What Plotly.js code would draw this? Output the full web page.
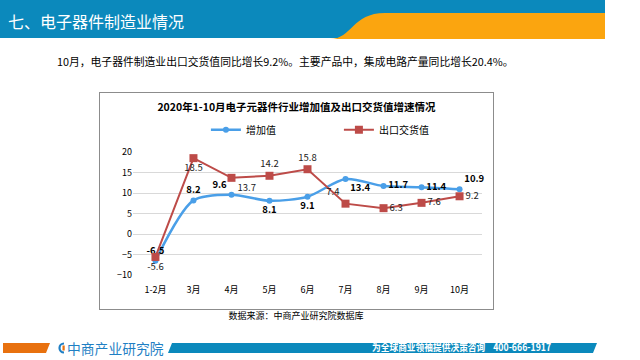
<!DOCTYPE html>
<html><head><meta charset="utf-8">
<script src="https://cdn.plot.ly/plotly-3.0.1.min.js"></script>
<style>
html,body{margin:0;padding:0;width:640px;height:360px;overflow:hidden;background:#fff;font-family:"Noto Sans CJK SC","Noto Sans",sans-serif;}
.abs{position:absolute;}
#hdrtitle{left:8px;top:8px;color:#fff;font-size:16px;line-height:26px;white-space:nowrap;}
#sub{left:57px;top:52px;font-size:10.8px;line-height:18px;color:#000;white-space:nowrap;}
#chart{left:99px;top:92px;width:393px;height:216px;border:1px solid #8c8c8c;}
#src{left:0;width:592px;top:309px;text-align:center;font-size:9px;line-height:14px;color:#000;}
#logo{left:67px;top:339px;font-size:13.8px;line-height:18px;color:#1f7fc4;white-space:nowrap;}
#slogan{left:372px;top:339px;font-size:10.5px;line-height:15px;color:#fff;font-weight:bold;white-space:nowrap;transform-origin:0 0;transform:scale(0.83,1);}
</style></head>
<body>
<svg class="abs" style="left:0;top:0" width="640" height="360">
  <rect x="0" y="0" width="605" height="38" fill="#0b89bc"/>
  <path d="M 330 39 C 352 39, 352 13, 385 13 L 605 13 L 605 39 Z" fill="#fba50f"/>
  <polygon points="3,343 50,343 46,353 3,353" fill="#e8710f"/>
  <polygon points="172,343 597,343 593,353 168,353" fill="#0b89bc"/>
  <path d="M 64 343.5 A 4.5 4.5 0 1 0 64 352.5" fill="none" stroke="#1f7fc4" stroke-width="2.2"/>
  <rect x="62.5" y="345.5" width="2.2" height="5" fill="#e8710f"/>
</svg>
<div id="hdrtitle" class="abs">七、电子器件制造业情况</div>
<div id="sub" class="abs">10月，电子器件制造业出口交货值同比增长9.2%。主要产品中，集成电路产量同比增长20.4%。</div>
<div id="chart" class="abs"></div>
<div id="src" class="abs">数据来源：中商产业研究院数据库</div>
<div id="logo" class="abs">中商产业研究院</div>
<div id="slogan" class="abs">为全球商业领袖提供决策咨询&nbsp;&nbsp;&nbsp;&nbsp;400-666-1917</div>
<script>
const categories = ["1-2月","3月","4月","5月","6月","7月","8月","9月","10月"];
const addedValue = [-6.5, 8.2, 9.6, 8.1, 9.1, 13.4, 11.7, 11.4, 10.9];
const exportValue = [-5.6, 18.5, 13.7, 14.2, 15.8, 7.4, 6.3, 7.6, 9.2];
const seriesNames = ["增加值", "出口交货值"];
const yTicks = [-10, -5, 0, 5, 10, 15, 20];
const chartTitle = "2020年1-10月电子元器件行业增加值及出口交货值增速情况";

const blueLabelPos = ["top center","top center","top left","bottom center","bottom center","bottom right","middle right","middle right","top right"];
const redLabelPos = ["bottom center","bottom center","bottom right","top center","top center","top left","middle right","middle right","middle right"];

const font = "Noto Sans CJK SC, Noto Sans, sans-serif";
const traces = [
  {x: categories, y: addedValue, name: seriesNames[0], type: "scatter", mode: "lines+markers+text",
   line: {color: "#4a9fe8", width: 2.5, shape: "spline", smoothing: 0.8},
   marker: {symbol: "circle", size: 6, color: "#4a9fe8"},
   text: addedValue.map(v => v.toFixed(1)), textposition: blueLabelPos,
   textfont: {family: font, size: 9.5, color: "#000", weight: "bold"}, cliponaxis: false},
  {x: categories, y: exportValue, name: seriesNames[1], type: "scatter", mode: "lines+markers+text",
   line: {color: "#bd4b48", width: 2},
   marker: {symbol: "square", size: 8, color: "#bd4b48"},
   text: exportValue.map(v => v.toFixed(1)), textposition: redLabelPos,
   textfont: {family: font, size: 9.5, color: "#222"}, cliponaxis: false}
];
const layout = {
  width: 393, height: 216,
  margin: {l: 33, r: 11, t: 59, b: 34},
  paper_bgcolor: "#fff", plot_bgcolor: "#fff",
  font: {family: font, size: 9, color: "#000"},
  title: {text: "<b>" + chartTitle + "</b>", font: {family: font, size: 10.5, color: "#000"},
          x: 0.5, xanchor: "center", y: 0.935, yanchor: "middle"},
  showlegend: true,
  legend: {orientation: "h", x: 0.59, xanchor: "center", y: 1.18, yanchor: "middle",
           font: {family: font, size: 10, color: "#000"}, entrywidth: 88, traceorder: "normal"},
  xaxis: {type: "category", showgrid: false, showline: false, zeroline: false, ticks: "",
          ticklabelstandoff: 8,
          tickfont: {family: font, size: 9, color: "#000"}, fixedrange: true},
  yaxis: {range: [-10, 20], tickvals: yTicks, showgrid: true, gridcolor: "#d9d9d9", gridwidth: 1,
          zeroline: false, showline: false, ticks: "", tickfont: {family: font, size: 9, color: "#000"},
          fixedrange: true}
};
Plotly.newPlot("chart", traces, layout, {staticPlot: true, displayModeBar: false});
</script>
</body></html>
